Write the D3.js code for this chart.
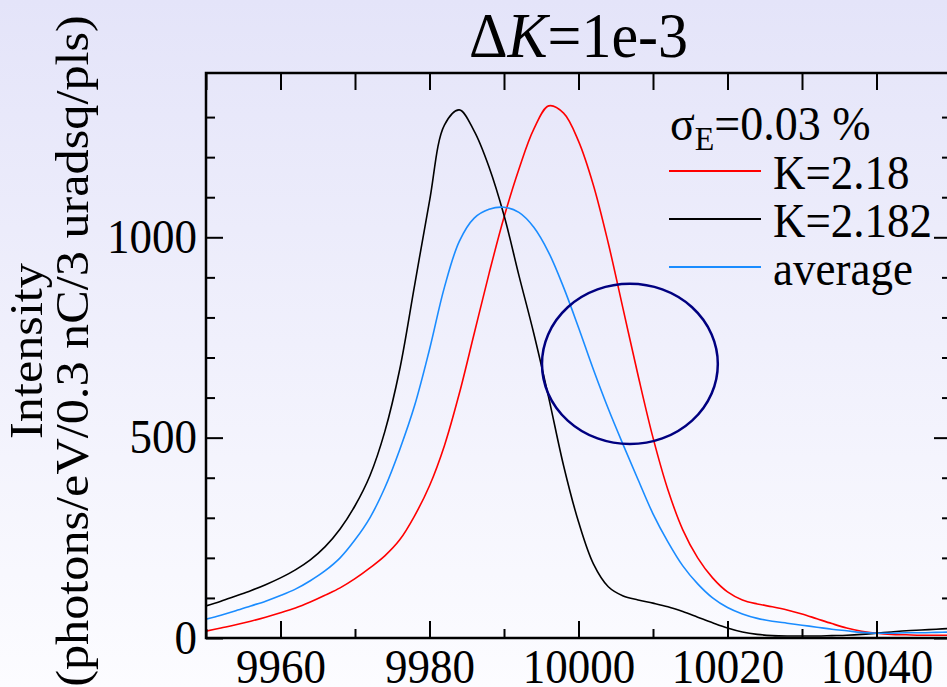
<!DOCTYPE html>
<html><head><meta charset="utf-8">
<script src="https://cdn.jsdelivr.net/npm/d3@7"></script>
<style>html,body{margin:0;padding:0;overflow:hidden;background:#fff}</style>
</head><body>
<svg id="chart" width="947" height="687"></svg>
<script>
// ---- data ----
const energy = [9950,9952,9954,9956,9958,9960,9962,9964,9966,9968,
  9970,9972,9974,9976,9978,9980,9982,9984,9986,9988,
  9990,9992,9994,9996,9998,10000,10002,10004,10006,10008,
  10010,10012,10014,10016,10018,10020,10022,10024,10026,10028,
  10030,10032,10034,10036,10038,10040,10042,10044,10046,10048,10050];
const intensityK218 = [17,25,33,42,52,63,75,90,107,125,
  148,175,205,245,305,380,480,610,760,910,
  1050,1170,1270,1328,1310,1240,1130,985,820,655,
  500,370,270,200,150,115,95,85,78,70,
  60,48,36,25,17,12,9,8,7,7,7];
const intensityK2182 = [80,92,105,118,133,150,170,195,228,272,
  330,405,515,670,880,1090,1280,1318,1265,1175,
  1055,905,760,600,430,290,185,128,105,95,
  87,78,66,52,38,25,15,9,6,5,
  5,5,6,7,9,12,15,18,20,22,24];
const intensityAverage = [47,57,68,80,92,106,122,143,168,200,
  245,300,375,470,580,720,875,990,1048,1070,
  1075,1062,1025,962,875,775,670,572,482,395,
  310,240,180,135,100,76,60,49,42,37,
  32,27,22,18,14,12,12,13,13,14,15];
const seriesNames = ["K=2.18", "K=2.182", "average"];
const seriesColors = ["#ff0000", "#000000", "#1a8cff"];
const xMajorTicks = [9960, 9980, 10000, 10020, 10040];
const xMinorTicks = [9950,9960,9970,9980,9990,10000,10010,10020,10030,10040,10050];
const yMajorTicks = [0, 500, 1000];
const yMinorTicks = [100,200,300,400,600,700,800,900,1100,1200,1300];
const titleParts = ["\u0394", "K", "=1e-3"];
const yLabelLines = ["Intensity", "(photons/eV/0.3 nC/3 uradsq/pls)"];
const legendHeader = ["\u03c3", "E", "=0.03 %"];
const marker = {x: 10006.9, y: 684, rx: 11.8, ry: 200};

// ---- drawing ----
const W = 947, H = 687;
const svg = d3.select("#chart");
const defs = svg.append("defs");
const grad = defs.append("linearGradient").attr("id","bg").attr("x1",0).attr("y1",0).attr("x2",0).attr("y2",1);
grad.append("stop").attr("offset","0%").attr("stop-color","#e4e4f9");
grad.append("stop").attr("offset","100%").attr("stop-color","#fcfcff");
svg.append("rect").attr("width",W).attr("height",H).attr("fill","url(#bg)");

const x = d3.scaleLinear().domain([9950, 10050]).range([206, 951]);
const y = d3.scaleLinear().domain([0, 1410]).range([638, 73]);

defs.append("clipPath").attr("id","clip").append("rect")
  .attr("x", x(9950)).attr("y", y(1410)).attr("width", x(10050)-x(9950)).attr("height", y(0)-y(1410));

const font = "Liberation Serif, Times New Roman, serif";
const VS = 1.07; // text in the reference is slightly taller than wide

// curves
const allSeries = [intensityK218, intensityK2182, intensityAverage];
const line = d3.line().x((d,i)=>x(energy[i])).y(d=>y(d)).curve(d3.curveCatmullRom.alpha(0.5));
const g = svg.append("g").attr("clip-path","url(#clip)");
[0,1,2].forEach(k=>{
  g.append("path").datum(allSeries[k]).attr("d", line)
    .attr("fill","none").attr("stroke", seriesColors[k]).attr("stroke-width",1.6);
});

// marker ellipse
svg.append("ellipse")
  .attr("cx", x(marker.x)).attr("cy", y(marker.y))
  .attr("rx", x(marker.x+marker.rx)-x(marker.x)).attr("ry", y(0)-y(marker.ry))
  .attr("fill","none").attr("stroke","#000080").attr("stroke-width",2.5);

// axes (ticks inward)
function styleAxis(sel){
  sel.attr("font-family", font);
  sel.select(".domain").remove();
  sel.selectAll(".tick line").attr("stroke","#000").attr("stroke-width",2);
  sel.selectAll(".tick text").style("font-family",font).attr("font-size",45).attr("fill","#000");
}
svg.append("g").attr("transform",`translate(0,${y(0)})`)
  .call(d3.axisBottom(x).tickValues(xMinorTicks).tickSize(-9).tickFormat(""))
  .call(styleAxis);
svg.append("g").attr("transform",`translate(0,${y(0)})`)
  .call(d3.axisBottom(x).tickValues(xMajorTicks).tickSize(-17).tickFormat(d3.format("d")))
  .call(styleAxis)
  .call(s=>s.selectAll(".tick text").attr("y",0).attr("dy",null)
    .attr("transform",`translate(0,45) scale(1,${VS})`));
svg.append("g").attr("transform",`translate(0,${y(1410)})`)
  .call(d3.axisTop(x).tickValues(xMinorTicks).tickSize(-17).tickFormat(""))
  .call(styleAxis);
svg.append("g").attr("transform",`translate(${x(9950)},0)`)
  .call(d3.axisLeft(y).tickValues(yMinorTicks).tickSize(-9).tickFormat(""))
  .call(styleAxis);
svg.append("g").attr("transform",`translate(${x(9950)},0)`)
  .call(d3.axisLeft(y).tickValues(yMajorTicks).tickSize(-17).tickFormat(d3.format("d")))
  .call(styleAxis)
  .call(s=>s.selectAll(".tick text").attr("x",-9).attr("y",0).attr("dy",null)
    .attr("transform",`translate(0,15) scale(1,${VS})`));
svg.append("g").attr("transform",`translate(${x(10050)},0)`)
  .call(d3.axisRight(y).tickValues(yMinorTicks).tickSize(-9).tickFormat(""))
  .call(styleAxis);
svg.append("g").attr("transform",`translate(${x(10050)},0)`)
  .call(d3.axisRight(y).tickValues(yMajorTicks).tickSize(-17).tickFormat(""))
  .call(styleAxis);

// frame
svg.append("rect").attr("x",x(9950)).attr("y",y(1410))
  .attr("width",x(10050)-x(9950)).attr("height",y(0)-y(1410))
  .attr("fill","none").attr("stroke","#000").attr("stroke-width",2.5);

// title
const t = svg.append("text").attr("transform",`translate(${(x(9950)+x(10050))/2},57) scale(1,${VS})`)
  .attr("text-anchor","middle").style("font-family",font).attr("font-size",60).attr("fill","#000");
t.append("tspan").text(titleParts[0]);
t.append("tspan").attr("font-style","italic").text(titleParts[1]);
t.append("tspan").text(titleParts[2]);

// y label
const yl = svg.append("text").attr("transform",`translate(0,351) rotate(-90) scale(${VS},1)`)
  .attr("text-anchor","middle").style("font-family",font).attr("font-size",47).attr("fill","#000");
yl.append("tspan").attr("x",0).attr("y",42).text(yLabelLines[0]);
yl.append("tspan").attr("x",0).attr("y",88).text(yLabelLines[1]);

// legend
const lh = svg.append("text").attr("transform",`translate(670,140) scale(1,${VS})`)
  .style("font-family",font).attr("font-size",46).attr("fill","#000");
lh.append("tspan").text(legendHeader[0]);
lh.append("tspan").attr("font-size",32).attr("dy",9).text(legendHeader[1]);
lh.append("tspan").attr("dy",-9).text(legendHeader[2]);
seriesNames.forEach((name,k)=>{
  const by = 189 + k*48;
  svg.append("line").attr("x1",669).attr("x2",761).attr("y1",by-18).attr("y2",by-18)
    .attr("stroke",seriesColors[k]).attr("stroke-width",1.8);
  svg.append("text").attr("transform",`translate(773,${by}) scale(1,${VS})`)
    .style("font-family",font).attr("font-size",45)
    .attr("fill","#000").text(name);
});
</script>
</body></html>
